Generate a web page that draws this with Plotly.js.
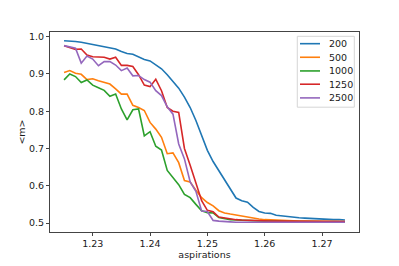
<!DOCTYPE html>
<html>
<head>
<meta charset="utf-8">
<script src="https://cdn.plot.ly/plotly-3.0.1.min.js"></script>
<style>html,body{margin:0;padding:0;background:#fff;}#chart{width:399px;height:266px;}</style>
</head>
<body>
<div id="chart"></div>
<script>
// x values: aspirations 1.225 .. 1.274 step 0.001
const aspirations = [1.225,1.226,1.227,1.228,1.229,1.230,1.231,1.232,1.233,1.234,
  1.235,1.236,1.237,1.238,1.239,1.240,1.241,1.242,1.243,1.244,
  1.245,1.246,1.247,1.248,1.249,1.250,1.251,1.252,1.253,1.254,
  1.255,1.256,1.257,1.258,1.259,1.260,1.261,1.262,1.263,1.264,
  1.265,1.266,1.267,1.268,1.269,1.270,1.271,1.272,1.273,1.274];

const seriesNames = ["200","500","1000","1250","2500"];
const seriesColors = ["#1f77b4","#ff7f0e","#2ca02c","#d62728","#9467bd"];

const m200 = [0.989,0.989,0.987,0.985,0.982,0.979,0.977,0.974,0.971,0.967,
  0.960,0.955,0.953,0.945,0.939,0.935,0.925,0.914,0.898,0.880,
  0.862,0.838,0.810,0.775,0.735,0.695,0.665,0.640,0.615,0.590,
  0.567,0.560,0.556,0.542,0.531,0.527,0.526,0.521,0.519,0.517,
  0.515,0.514,0.513,0.512,0.511,0.510,0.510,0.509,0.509,0.508];

const m500 = [0.904,0.909,0.902,0.899,0.885,0.887,0.882,0.877,0.873,0.860,
  0.846,0.846,0.816,0.810,0.802,0.770,0.752,0.730,0.686,0.688,
  0.662,0.614,0.610,0.588,0.568,0.555,0.546,0.533,0.527,0.524,
  0.521,0.518,0.515,0.512,0.511,0.509,0.508,0.507,0.506,0.506,
  0.505,0.505,0.505,0.505,0.505,0.504,0.504,0.504,0.504,0.504];

const m1000 = [0.884,0.900,0.893,0.877,0.884,0.870,0.863,0.856,0.840,0.846,
  0.806,0.777,0.804,0.806,0.734,0.745,0.706,0.696,0.641,0.621,
  0.603,0.577,0.568,0.550,0.533,0.528,0.527,0.515,0.511,0.509,
  0.508,0.507,0.506,0.506,0.505,0.505,0.505,0.504,0.504,0.504,
  0.504,0.504,0.504,0.504,0.504,0.503,0.503,0.503,0.503,0.503];

const m1250 = [0.976,0.972,0.966,0.967,0.951,0.946,0.945,0.945,0.940,0.945,
  0.923,0.923,0.920,0.898,0.870,0.866,0.886,0.855,0.810,0.800,
  0.797,0.700,0.655,0.610,0.560,0.534,0.530,0.516,0.513,0.511,
  0.509,0.508,0.507,0.507,0.506,0.506,0.505,0.505,0.505,0.505,
  0.505,0.504,0.504,0.504,0.504,0.504,0.504,0.504,0.504,0.504];

const m2500 = [0.976,0.972,0.969,0.929,0.948,0.940,0.922,0.933,0.933,0.924,
  0.909,0.916,0.895,0.896,0.885,0.878,0.855,0.842,0.812,0.792,
  0.712,0.672,0.610,0.585,0.532,0.531,0.507,0.505,0.503,0.503,
  0.502,0.502,0.502,0.502,0.502,0.502,0.502,0.502,0.502,0.502,
  0.502,0.502,0.502,0.502,0.502,0.502,0.502,0.502,0.502,0.502];

const xTickVals = [1.23,1.24,1.25,1.26,1.27];
const xTickText = ["1.23","1.24","1.25","1.26","1.27"];
const yTickVals = [0.5,0.6,0.7,0.8,0.9,1.0];
const yTickText = ["0.5","0.6","0.7","0.8","0.9","1.0"];

const allSeries = [m200,m500,m1000,m1250,m2500];

const traces = allSeries.map((ys,k)=>({
  x: aspirations, y: ys, type:'scatter', mode:'lines', name: seriesNames[k],
  line:{color:seriesColors[k], width:1.6}, showlegend:false, hoverinfo:'skip'
}));

// manual legend (matplotlib-like spacing)
const legX0 = 0.8003, legX1 = 0.9848, legY0 = 0.624, legY1 = 0.9785;
const rowY = [0.9416,0.8737,0.8053,0.7389,0.6705];
const shapes = [{type:'rect', xref:'paper', yref:'paper', x0:legX0, x1:legX1, y0:legY0, y1:legY1,
  line:{color:'#d5d5d5', width:1}, fillcolor:'rgba(255,255,255,0.8)', layer:'above'}];
const annotations = [];
seriesNames.forEach((nm,k)=>{
  shapes.push({type:'line', xref:'paper', yref:'paper', x0:0.809, x1:0.8738, y0:rowY[k], y1:rowY[k],
    line:{color:seriesColors[k], width:1.6}, layer:'above'});
  annotations.push({xref:'paper', yref:'paper', x:0.897, y:rowY[k], xanchor:'left', yanchor:'middle',
    text:nm, showarrow:false, font:{family:'DejaVu Sans', size:9.5, color:'#1a1a1a'}});
});

const axisCommon = {showline:true, mirror:true, linecolor:'#444', linewidth:1, ticks:'outside',
  ticklen:3, tickwidth:1, tickcolor:'#444', showgrid:false, zeroline:false,
  tickfont:{family:'DejaVu Sans', size:9.5, color:'#1a1a1a'}, automargin:false};

const layout = {
  width:399, height:266,
  margin:{l:50, r:40, t:32, b:34, pad:0},
  paper_bgcolor:'#fff', plot_bgcolor:'#fff',
  showlegend:false,
  xaxis:Object.assign({}, axisCommon, {range:[1.22255,1.27645], tickmode:'array', tickvals:xTickVals, ticktext:xTickText,
    title:{text:'aspirations', font:{family:'DejaVu Sans', size:9.5, color:'#1a1a1a'}, standoff:2}}),
  yaxis:Object.assign({}, axisCommon, {range:[0.4759,1.0126], tickmode:'array', tickvals:yTickVals, ticktext:yTickText,
    title:{text:'&lt;m&gt;', font:{family:'DejaVu Sans', size:9.5, color:'#1a1a1a'}, standoff:1}}),
  shapes:shapes, annotations:annotations
};

Plotly.newPlot('chart', traces, layout, {displayModeBar:false, staticPlot:true});
</script>
</body>
</html>
